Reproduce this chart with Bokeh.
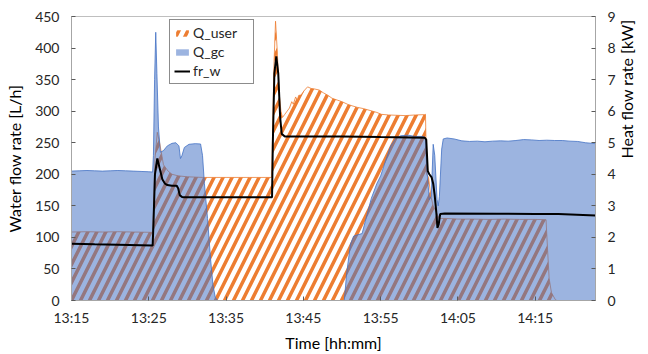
import math
import numpy as np
import pandas as pd
from bokeh.plotting import figure
from bokeh.models import (ColumnDataSource, Range1d, LinearAxis, FixedTicker,
                          DatetimeTickFormatter, Legend, LegendItem)
from bokeh.embed import file_html
from bokeh.resources import INLINE

# Time axis: minutes after the start of the record (13:15)
DAY = "2021-03-01"
START_LABEL = "13:15"
END_MIN = 67.8

# Heat flow delivered to the user [kW]
q_user_min = [0, 2, 4, 6, 8, 10.5, 10.6, 10.8, 11.1, 11.4, 11.9, 12.5, 13.0, 13.8,
              15, 17, 20, 23, 25.9, 26.0, 26.2, 26.4, 26.6, 26.9, 27.1, 27.3,
              27.6, 28.2, 28.5, 28.7, 29.0, 29.2, 29.4, 29.7, 30.1, 30.55, 31.0,
              31.5, 32.05, 32.6, 33.2, 33.7, 34.4, 35.0, 35.7, 36.3, 37.0, 37.8,
              38.8, 39.5, 40.1, 41.0, 42.0, 43.2, 44.5, 45.7, 45.8, 45.95, 46.2,
              46.5, 46.8, 47.2, 47.6, 48.5, 50, 52, 54, 56, 58, 60, 61.4, 61.6,
              61.8, 62.1, 62.6, 62.8, 67.8]
q_user_kw = [2.17, 2.18, 2.17, 2.18, 2.17, 2.16, 2.8, 4.5, 5.33, 5.0, 4.3, 4.1, 4.0, 3.95,
             3.92, 3.9, 3.9, 3.9, 3.9, 5.0, 7.5, 8.85, 8.0, 6.5, 6.0, 5.8,
             5.9, 6.1, 6.3, 6.22, 6.45, 6.35, 6.5, 6.51, 6.65, 6.77, 6.72,
             6.7, 6.67, 6.58, 6.5, 6.41, 6.35, 6.3, 6.22, 6.17, 6.12, 6.08,
             6.01, 5.96, 5.9, 5.88, 5.87, 5.86, 5.88, 5.89, 5.9, 4.0, 3.9,
             3.3, 3.0, 2.8, 2.6, 2.6, 2.58, 2.58, 2.57, 2.58, 2.57, 2.57, 2.56, 1.6,
             0.7, 0.25, 0.03, 0.0, 0.0]

# Heat flow of the gas cooler [kW]
q_gc_min = [0, 1, 2, 3, 4, 5, 6, 7, 8, 9, 10, 10.5, 10.6, 10.75, 10.9, 11.05, 11.25,
            11.5, 11.9, 12.4, 13.0, 13.5, 13.9, 14.1, 14.3, 14.6, 15.2, 16.0, 16.7,
            16.95, 17.2, 17.6, 18.0, 18.3, 18.6, 18.9, 35.3, 35.6, 36.1, 36.5,
            37.0, 37.6, 38.0, 38.8, 39.5, 40.0, 40.6, 41.3, 42.0, 42.6, 43.5,
            44.5, 45.5, 45.8, 46.0, 46.3, 46.55, 46.8, 47.0, 47.3, 47.45, 47.6,
            47.9, 48.1, 48.6, 49.5, 50.5, 51.5, 52.5, 53.5, 54.5, 55.5, 56.5,
            57.5, 58.5, 59.5, 60.5, 61.5, 62.5, 63.5, 64.5, 65.5, 66.5, 67.8]
q_gc_kw = [4.10, 4.11, 4.12, 4.11, 4.10, 4.11, 4.12, 4.11, 4.10, 4.09, 4.08, 4.07, 4.6,
           7.0, 8.5, 7.2, 5.5, 4.7, 4.75, 4.9, 4.98, 5.0, 4.9, 4.5, 4.6, 4.85, 4.95,
           4.97, 4.96, 4.6, 3.7, 2.6, 1.3, 0.5, 0.1, 0.0, 0.0, 0.86, 1.79, 2.04,
           2.08, 2.12, 2.5, 3.24, 3.7, 3.95, 4.4, 4.9, 5.15, 5.22, 5.24, 5.2,
           5.2, 5.15, 4.1, 3.2, 3.3, 4.95, 4.6, 3.2, 3.0, 3.3, 4.8, 5.12, 5.15,
           5.12, 5.06, 5.04, 5.05, 5.03, 5.05, 5.06, 5.05, 5.07, 5.1, 5.09, 5.07,
           5.08, 5.07, 5.07, 5.05, 5.04, 5.0, 4.97]

# Water flow rate [L/h]
fr_w_min = [0, 3, 6, 10.5, 10.6, 10.8, 11.1, 11.4, 11.75, 12.1, 12.4, 13.0, 13.6,
            13.8, 14.0, 14.3, 14.5, 20, 25.95, 26.05, 26.25, 26.5, 26.75, 27.0,
            27.2, 27.6, 35, 40, 45.7, 45.9, 46.1, 46.3, 46.6, 46.8, 47.0, 47.2,
            47.35, 47.5, 47.7, 48.3, 55, 60, 63, 67.8]
fr_w_lh = [90, 89, 88.5, 87, 120, 200, 225, 210, 192, 185, 183, 182, 182,
           178, 167, 164, 163.5, 163.5, 163.5, 250, 360, 387, 360, 290,
           264, 260, 260, 259, 258, 255, 205, 200, 195, 185, 166, 140,
           115, 120, 137, 138, 137.5, 137, 137, 134.5]

tick_labels = ["13:15", "13:25", "13:35", "13:45", "13:55", "14:05", "14:15"]
left_ticks = [0, 50, 100, 150, 200, 250, 300, 350, 400, 450]
right_ticks = [0, 1, 2, 3, 4, 5, 6, 7, 8, 9]


def to_ms(label):
    return pd.Timestamp(f"{DAY} {label}").value / 1e6


start_ms = to_ms(START_LABEL)


def minutes_to_ms(mins):
    return start_ms + np.asarray(mins, dtype=float) * 60000.0


ORANGE = "#ED7D31"
BLUE = "#4472C4"
FONT = "Lato"
GRAY = "#A6A6A6"
TEXT = "#262626"

p = figure(width=648, height=354, x_axis_type="datetime",
           output_backend="svg", toolbar_location=None,
           x_range=Range1d(start_ms, start_ms + END_MIN * 60000.0),
           y_range=Range1d(0, 450),
           min_border_left=71, min_border_right=49,
           min_border_top=16, min_border_bottom=46)
p.extra_y_ranges = {"kw": Range1d(0, 9)}
p.grid.visible = False
p.outline_line_color = "#BFBFBF"
p.background_fill_color = "white"
p.border_fill_color = "white"

src_user = ColumnDataSource(dict(x=minutes_to_ms(q_user_min), y=q_user_kw))
src_gc = ColumnDataSource(dict(x=minutes_to_ms(q_gc_min), y=q_gc_kw))
src_fr = ColumnDataSource(dict(x=minutes_to_ms(fr_w_min), y=fr_w_lh))

r_user = p.varea(x="x", y1=0, y2="y", source=src_user, y_range_name="kw",
                 fill_color="white", fill_alpha=1.0,
                 hatch_pattern="/", hatch_color=ORANGE, hatch_scale=18,
                 hatch_weight=3.5)
p.line(x="x", y="y", source=src_user, y_range_name="kw",
       line_color=ORANGE, line_width=1, line_alpha=0.8)

r_gc = p.varea(x="x", y1=0, y2="y", source=src_gc, y_range_name="kw",
               fill_color=BLUE, fill_alpha=0.53)
p.line(x="x", y="y", source=src_gc, y_range_name="kw",
       line_color=BLUE, line_width=1, line_alpha=0.8)

r_fr = p.line(x="x", y="y", source=src_fr, line_color="black", line_width=2)

# Axes
xa = p.xaxis[0]
xa.ticker = FixedTicker(ticks=[to_ms(t) for t in tick_labels])
xa.formatter = DatetimeTickFormatter(minutes="%H:%M", hourmin="%H:%M",
                                     hours="%H:%M", minsec="%H:%M")
xa.axis_label = "Time [hh:mm]"

ya = p.yaxis[0]
ya.ticker = FixedTicker(ticks=left_ticks)
ya.axis_label = "Water flow rate [L/h]"

ra = LinearAxis(y_range_name="kw", axis_label="Heat flow rate [kW]",
                ticker=FixedTicker(ticks=right_ticks))
p.add_layout(ra, "right")
ra.axis_label_orientation = math.pi / 2

for ax in (xa, ya, ra):
    ax.axis_line_color = GRAY
    ax.major_tick_line_color = "#595959"
    ax.major_tick_in = 4
    ax.major_tick_out = 0
    ax.minor_tick_line_color = None
    ax.major_label_text_font = FONT
    ax.major_label_text_font_size = "14px"
    ax.major_label_text_color = TEXT
    ax.axis_label_text_font = FONT
    ax.axis_label_text_font_size = "16px"
    ax.axis_label_text_font_style = "normal"
    ax.axis_label_text_color = "black"
    ax.major_label_standoff = 12
    ax.axis_label_standoff = 8

xa.major_label_standoff = 8
xa.axis_label_standoff = 4

legend = Legend(items=[LegendItem(label="Q_user", renderers=[r_user]),
                       LegendItem(label="Q_gc", renderers=[r_gc]),
                       LegendItem(label="fr_w", renderers=[r_fr])],
                location=(98, 216))
legend.label_text_font = FONT
legend.label_text_font_size = "14px"
legend.label_text_color = TEXT
legend.glyph_width = 16
legend.glyph_height = 8
legend.label_height = 16
legend.label_width = 56
legend.label_standoff = 3
legend.spacing = 2
legend.padding = 4
legend.margin = 0
legend.border_line_color = "#8C8C8C"
legend.border_line_width = 1
legend.border_line_alpha = 1.0
legend.background_fill_color = "white"
legend.background_fill_alpha = 1.0
p.add_layout(legend)

open("out.html", "w").write(file_html(p, INLINE))
